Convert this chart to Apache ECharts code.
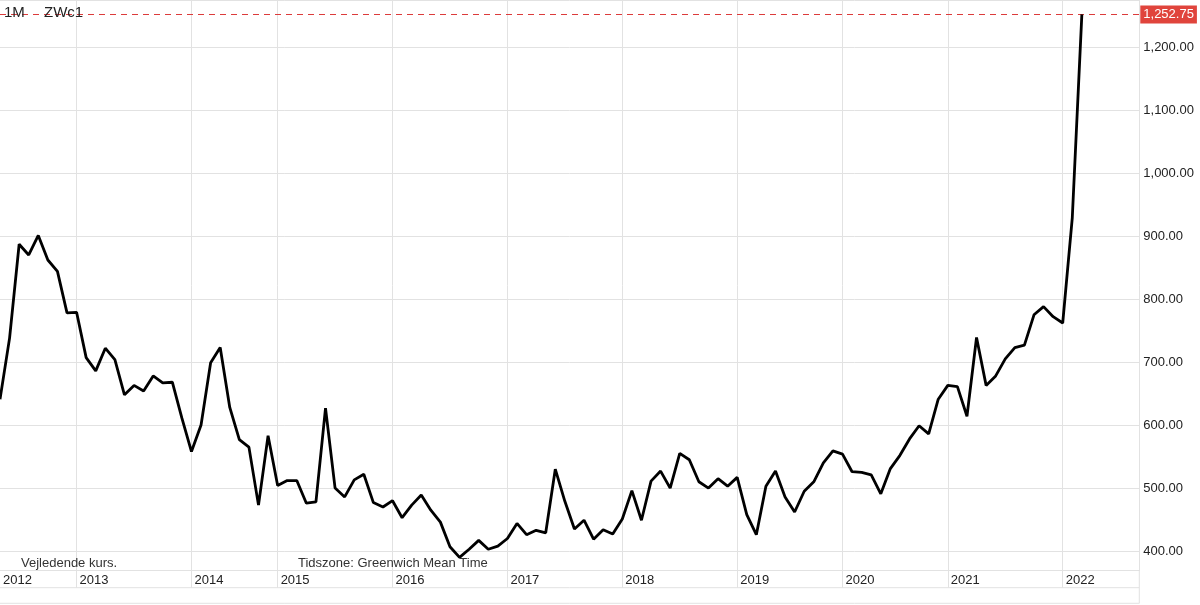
<!DOCTYPE html>
<html><head><meta charset="utf-8">
<script src="https://cdn.jsdelivr.net/npm/echarts@6/dist/echarts.min.js"></script>
<style>html,body{margin:0;padding:0;background:#fff}#c{width:1200px;height:605px}</style>
</head><body><div id="c"></div>
<script>
// Category months (monthly points as drawn, a few months absent in source chart)
const categories = [
 '2012-05','2012-06','2012-07','2012-08','2012-09','2012-10','2012-11','2012-12',
 '2013-01','2013-02','2013-03','2013-04','2013-05','2013-06','2013-07','2013-08','2013-09','2013-10','2013-11','2013-12',
 '2014-01','2014-02','2014-03','2014-04','2014-05','2014-06','2014-07','2014-08','2014-09',
 '2015-01','2015-02','2015-03','2015-04','2015-05','2015-06','2015-07','2015-08','2015-09','2015-10','2015-11','2015-12',
 '2016-01','2016-02','2016-03','2016-04','2016-05','2016-06','2016-07','2016-08','2016-09','2016-10','2016-11','2016-12',
 '2017-01','2017-02','2017-03','2017-04','2017-05','2017-06','2017-07','2017-08','2017-09','2017-10','2017-11','2017-12',
 '2018-01','2018-02','2018-03','2018-04','2018-05','2018-06','2018-07','2018-08','2018-09','2018-10','2018-11','2018-12',
 '2019-01','2019-02','2019-03','2019-04','2019-05','2019-06','2019-07','2019-08','2019-09','2019-10','2019-11',
 '2020-01','2020-02','2020-03','2020-04','2020-05','2020-06','2020-07','2020-08','2020-09','2020-10','2020-11',
 '2021-01','2021-02','2021-03','2021-04','2021-05','2021-06','2021-07','2021-08','2021-09','2021-10','2021-11','2021-12',
 '2022-01','2022-02','2022-03',
 '2022-04','2022-05','2022-06','2022-07','2022-08','2022-09'
];
const yearLabels = ['2012','2013','2014','2015','2016','2017','2018','2019','2020','2021','2022'];

const v2012 = [642, 739, 888, 871, 902, 863, 845, 779];
const v2013 = [780, 708, 687, 723, 705, 649, 664, 655, 679, 668, 669, 612];
const v2014 = [559, 601, 700, 724, 629, 578, 566, 474, 584];
const v2015 = [505, 513, 513, 477, 479, 628, 501, 487, 514, 523, 478, 471];
const v2016 = [481, 454, 474, 490, 466, 447, 408, 391, 404, 418, 404, 409];
const v2017 = [421, 445, 427, 434, 430, 531, 480, 436, 450, 420, 435, 428];
const v2018 = [452, 497, 450, 512, 528, 501, 556, 546, 511, 501, 516, 504];
const v2019 = [518, 459, 427, 504, 528, 487, 463, 496, 511, 541, 560];
const v2020 = [555, 527, 526, 522, 492, 532, 553, 579, 600, 587, 642];
const v2021 = [664, 662, 615, 740, 664, 679, 706, 724, 728, 776, 789, 773];
const v2022 = [763, 930, 1252.75];
const lastPrice = 1252.75;

const values = [].concat(v2012, v2013, v2014, v2015, v2016, v2017, v2018, v2019, v2020, v2021, v2022);
while (values.length < categories.length) values.push(null);

const FONT = '"Liberation Sans", Arial, Helvetica, sans-serif';
const GRID = '#e2e2e2';
const nf = new Intl.NumberFormat('en-US', {minimumFractionDigits: 2, maximumFractionDigits: 2});

function isYearStart(index) {
  const c = categories[index];
  if (!c) return false;
  if (index === 0) return true;
  return yearLabels.indexOf(c.slice(0, 4)) >= 0 && c.slice(5) === '01';
}
function isYearLine(index) { return index > 0 && isYearStart(index); }

const chart = echarts.init(document.getElementById('c'), null, {renderer: 'canvas'});
chart.setOption({
  animation: false,
  backgroundColor: '#ffffff',
  grid: {left: 0, right: 60.7, top: -1, bottom: 34.3, containLabel: false},
  xAxis: {
    type: 'category',
    data: categories,
    boundaryGap: false,
    axisLine: {show: true, lineStyle: {color: GRID, width: 1}},
    axisTick: {show: true, length: 17, interval: function (i) { return isYearLine(i); }, lineStyle: {color: GRID}},
    splitLine: {show: true, interval: function (i) { return isYearLine(i); }, lineStyle: {color: GRID, width: 1}},
    axisLabel: {
      interval: function (i) { return isYearStart(i); },
      formatter: function (v) { return v.slice(0, 4); },
      align: 'left', verticalAlign: 'middle', margin: 9.3, padding: [0, 0, 0, 3],
      color: '#222', fontSize: 13, fontFamily: FONT
    }
  },
  yAxis: {
    type: 'value',
    position: 'right',
    min: 369.9, max: 1275.6,
    minInterval: 100, maxInterval: 100, splitNumber: 9,
    axisLine: {show: true, lineStyle: {color: GRID, width: 1}},
    axisTick: {show: false},
    splitLine: {show: true, lineStyle: {color: GRID, width: 1}},
    axisLabel: {
      showMinLabel: false, showMaxLabel: false,
      margin: 4, color: '#222', fontSize: 13, fontFamily: FONT,
      formatter: function (v) { return nf.format(v); }
    }
  },
  series: [{
    type: 'line',
    data: values,
    showSymbol: false,
    symbol: 'none',
    lineStyle: {color: '#000', width: 2.8},
    connectNulls: false,
    z: 3,
    markLine: {
      silent: true,
      symbol: 'none',
      data: [{yAxis: lastPrice}],
      lineStyle: {color: '#dc3b3b', type: [6, 5], width: 1},
      label: {
        show: true, position: 'end', distance: 1,
        formatter: function () { return nf.format(lastPrice); },
        color: '#fff', backgroundColor: '#e0443c', padding: [3, 3, 2, 3],
        fontSize: 13, fontFamily: FONT
      },
      z: 2
    }
  }],
  graphic: [
    {type: 'text', x: 4, y: 13, z: 10, style: {text: '1M', font: '15px ' + FONT, fill: '#222', verticalAlign: 'middle'}},
    {type: 'text', x: 44, y: 13, z: 10, style: {text: 'ZWc1', font: '15px ' + FONT, fill: '#222', verticalAlign: 'middle'}},
    {type: 'text', x: 21, y: 563, z: 10, style: {text: 'Vejledende kurs.', font: '13px ' + FONT, fill: '#333', verticalAlign: 'middle'}},
    {type: 'text', x: 298, y: 563, z: 10, style: {text: 'Tidszone: Greenwich Mean Time', font: '13px ' + FONT, fill: '#333', verticalAlign: 'middle'}},
    {type: 'line', z: 1, shape: {x1: 0, y1: 587.7, x2: 1139.3, y2: 587.7}, style: {stroke: GRID, lineWidth: 1}},
    {type: 'line', z: 1, shape: {x1: 0, y1: 603.3, x2: 1139.3, y2: 603.3}, style: {stroke: GRID, lineWidth: 1}},
    {type: 'line', z: 1, shape: {x1: 1139.3, y1: 570, x2: 1139.3, y2: 603.3}, style: {stroke: GRID, lineWidth: 1}}
  ]
});
</script>
</body></html>
